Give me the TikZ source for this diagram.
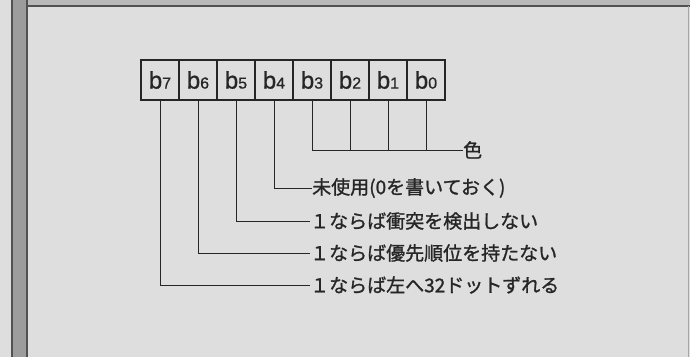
\documentclass[tikz,border=0pt]{standalone}
\usepackage{fontspec}
\setmainfont{Noto Sans CJK JP}[FakeBold=1.2]
\newfontfamily\latinfont{Liberation Sans}[FakeBold=0.8]
\usepackage{xcolor}
\usepackage{tikz}
\usetikzlibrary{positioning,calc}

\definecolor{paper}{HTML}{DEDEDE}
\definecolor{ink}{HTML}{262626}
\definecolor{strip}{HTML}{9C9C9C}

\begin{document}
\begin{tikzpicture}[x=1pt, y=-1pt,
    bitcell/.style={rectangle, draw=ink, line width=1.9pt, minimum width=38pt, minimum height=40pt, inner sep=0pt, text=ink, font=\latinfont},
    desc/.style={anchor=west, inner sep=0pt, text=ink, font=\fontsize{19}{19}\selectfont},
    leader/.style={draw=ink, line width=0.8pt}
]

% --- Frame and background ---
\fill[paper] (0,0) rectangle (690,357);
\useasboundingbox (0,0) rectangle (690,357);
\fill[strip] (11,0) rectangle (28,357);
\draw[ink!80, line width=1.5pt] (12,0) -- (12,357);
\draw[ink!80, line width=1.5pt] (27,0) -- (27,357);
\fill[gray!55] (28,0) rectangle (690,6);
\draw[ink!80, line width=1.5pt] (28,6) -- (690,6);
\draw[gray!70, line width=1pt] (688,6) -- (688,357);

% --- The register bits ---
\foreach \i in {0,...,7} {
    \node[bitcell] (b\i) at ({160+(7-\i)*38}, 80) {{\fontsize{24}{24}\selectfont b}{\fontsize{16}{16}\selectfont\i}};
}

% --- Descriptions ---
\node[desc] (col) at (463,150) {色};
\node[desc] (lab4) at (312,188) {未使用(0を書いておく)};
\node[desc] (lab5) at (310,221) {１ならば衝突を検出しない};
\node[desc] (lab6) at (310,253) {１ならば優先順位を持たない};
\node[desc] (lab7) at (310,285) {１ならば左へ32ドットずれる};

% Colour bits b3..b0 share one line
\draw[leader] (b3.south) |- (col.west);
\foreach \i in {0,1,2} {
    \draw[leader] (b\i.south) -- (b\i.south |- col.west);
}

% Single bits
\foreach \i in {4,...,7} {
    \draw[leader] (b\i.south) |- (lab\i.west);
}

\end{tikzpicture}
\end{document}
